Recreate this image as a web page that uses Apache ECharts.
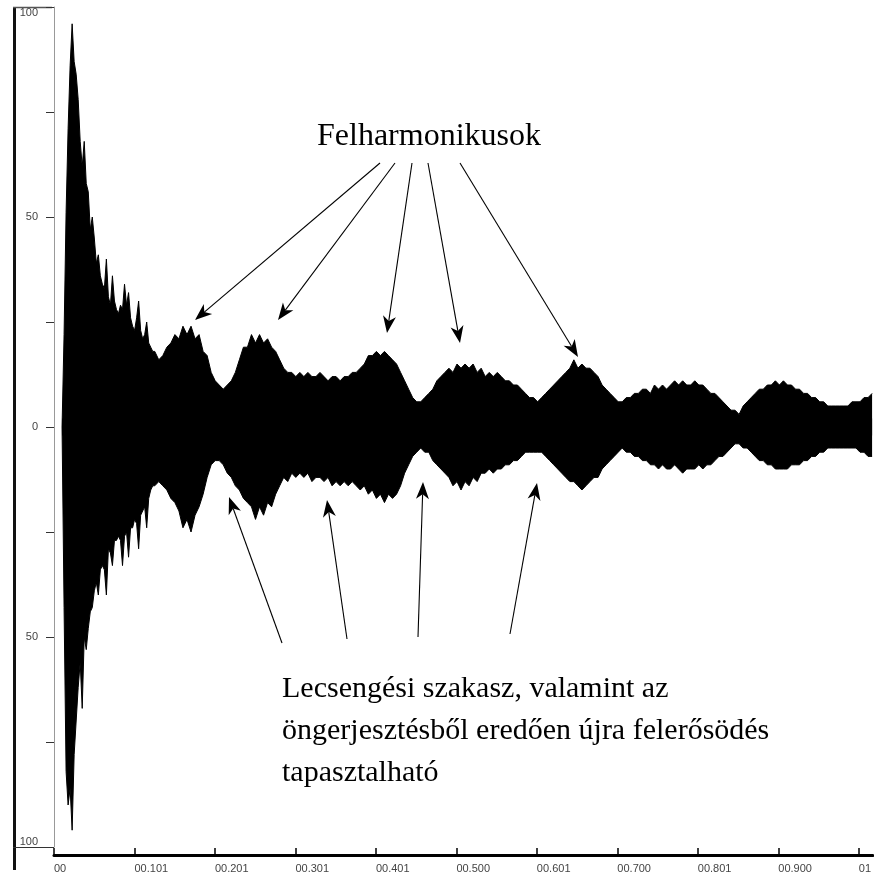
<!DOCTYPE html>
<html>
<head>
<meta charset="utf-8">
<script src="https://cdn.jsdelivr.net/npm/echarts@6/dist/echarts.min.js"></script>
<style>
html,body{margin:0;padding:0;background:#fff;}
#chart{width:874px;height:877px;}
</style>
</head>
<body>
<div id="chart"></div>
<script>
// ---- data ----
const time = [
0.010,0.0125,0.015,0.0175,0.020,0.0225,0.025,0.0275,0.030,0.0325,
0.035,0.0375,0.040,0.0425,0.045,0.0475,0.050,0.0525,0.055,0.0575,
0.060,0.0625,0.065,0.0675,0.070,0.0725,0.075,0.0775,0.080,0.0825,
0.085,0.0875,0.090,0.0925,0.095,0.0975,0.100,0.1025,0.105,0.1075,
0.110,0.1125,0.115,0.1175,0.120,0.1225,0.125,
0.130,0.135,0.140,0.145,0.150,0.155,0.160,0.165,0.170,0.175,
0.180,0.185,0.190,0.195,0.200,0.205,0.210,0.215,0.220,0.225,
0.230,0.235,0.240,0.245,0.250,0.255,0.260,0.265,0.270,0.275,
0.280,0.285,0.290,0.295,0.300,0.305,0.310,0.315,0.320,0.325,
0.330,0.335,0.340,0.345,0.350,0.355,0.360,0.365,0.370,0.375,
0.380,0.385,0.390,0.395,0.400,0.405,0.410,0.415,0.420,0.425,
0.430,0.435,0.440,0.445,0.450,0.455,0.460,0.465,0.470,0.475,
0.480,0.485,0.490,0.495,0.500,0.505,0.510,0.515,0.520,0.525,
0.530,0.535,0.540,0.545,0.550,0.555,0.560,0.565,0.570,0.575,
0.580,0.585,0.590,0.595,0.600,0.605,0.610,0.615,0.620,0.625,
0.630,0.635,0.640,0.645,0.650,0.655,0.660,0.665,0.670,0.675,
0.680,0.685,0.690,0.695,0.700,0.705,0.710,0.715,0.720,0.725,
0.730,0.735,0.740,0.745,0.750,0.755,0.760,0.765,0.770,0.775,
0.780,0.785,0.790,0.795,0.800,0.805,0.810,0.815,0.820,0.825,
0.830,0.835,0.840,0.845,0.850,0.855,0.860,0.865,0.870,0.875,
0.880,0.885,0.890,0.895,0.900,0.905,0.910,0.915,0.920,0.925,
0.930,0.935,0.940,0.945,0.950,0.955,0.960,0.965,0.970,0.975,
0.980,0.985,0.990,0.995,1.000,1.005,1.010,1.015
];
const upper = [
0,22,51,71,86,96,87,84,78,68,
62,68,58,56,47,50,45,39,41,36,
34,33,40,31,29,36,30,28,27,29,
28,34,29,32,26,24,23,26,30,23,
21,22,25,20,19,18,18,
16,17,19,20,22,21,24,22,24,21,
22,18,17,13,11,10,9,10,11,13,
16,19,19,22,20,22,20,21,19,18,
16,14,13,13,12,13,12,13,12,12,
13,12,11,12,12,11,12,12,13,13,
14,15,17,17,18,17,18,17,16,15,
13,11,9,7,6,6,7,8,9,11,
12,13,14,13,15,14,15,14,15,13,
14,12,13,12,13,12,11,11,10,10,
9,8,7,7,6,7,8,9,10,11,
12,13,14,16,14,15,14,14,13,12,
10,9,8,7,6,6,7,7,8,8,
9,9,8,10,9,10,9,10,11,10,
11,10,10,11,10,10,9,8,8,7,
6,5,4,4,3,5,6,7,8,9,
9,10,10,11,10,11,10,10,9,9,
8,8,7,7,6,6,5,5,5,5,
5,5,6,6,6,7,7,8
];
const lower = [
0,-43,-82,-90,-86,-96,-78,-70,-62,-56,
-67,-50,-53,-48,-44,-43,-39,-37,-40,-34,
-33,-34,-40,-29,-30,-33,-27,-27,-26,-27,
-33,-26,-25,-31,-24,-24,-22,-23,-29,-21,
-20,-19,-24,-17,-15,-14,-14,
-13,-14,-15,-17,-18,-20,-24,-22,-25,-21,
-19,-16,-12,-9,-8,-8,-9,-11,-12,-14,
-15,-17,-18,-19,-22,-19,-21,-18,-19,-16,
-14,-12,-13,-11,-12,-11,-12,-11,-13,-12,
-12,-13,-12,-14,-13,-14,-13,-14,-13,-14,
-15,-14,-16,-15,-17,-16,-18,-16,-17,-16,
-14,-11,-9,-7,-6,-5,-6,-6,-8,-9,
-10,-11,-12,-14,-13,-15,-13,-14,-12,-13,
-11,-11,-10,-11,-10,-10,-9,-9,-8,-8,
-7,-6,-6,-6,-6,-6,-7,-8,-9,-10,
-11,-12,-13,-13,-14,-15,-14,-13,-12,-12,
-10,-9,-8,-7,-6,-5,-6,-6,-7,-7,
-8,-8,-9,-9,-10,-9,-10,-10,-9,-10,
-11,-10,-10,-10,-9,-10,-9,-9,-8,-7,
-7,-6,-5,-4,-4,-5,-5,-6,-7,-8,
-8,-9,-9,-10,-10,-10,-10,-9,-9,-9,
-8,-8,-7,-7,-6,-6,-5,-5,-5,-5,
-5,-5,-5,-5,-6,-6,-7,-7
];
const xTickValues = [0,0.1,0.2,0.3,0.4,0.5,0.6,0.7,0.8,0.9,1.0];
const xTickLabels = ['00','00.101','00.201','00.301','00.401','00.500','00.601','00.700','00.801','00.900','01'];
const yTickLabels = {'100':'100','50':'50','0':'0','-50':'50','-100':'100'};
const titleTop = 'Felharmonikusok';
const noteLines = ['Lecsengési szakasz, valamint az','öngerjesztésből eredően újra felerősödés','tapasztalható'];

// ---- build ----
const upperData = time.map((t,i)=>[t, upper[i]]);
const lowerData = time.map((t,i)=>[t, lower[i]]);

const serifFamily = '"Liberation Serif","Times New Roman",serif';

function arrow(x1,y1,x2,y2){
  const dx=x2-x1, dy=y2-y1, len=Math.sqrt(dx*dx+dy*dy);
  const ux=dx/len, uy=dy/len, px=-uy, py=ux;
  const L=17, W=6.5;
  const bx=x2-ux*L, by=y2-uy*L;
  const nx=x2-ux*L*0.72, ny=y2-uy*L*0.72;
  return [
    {type:'line', silent:true, z:100, shape:{x1:x1,y1:y1,x2:nx,y2:ny}, style:{stroke:'#000', lineWidth:1.1}},
    {type:'polygon', silent:true, z:100, shape:{points:[[x2,y2],[bx+px*W,by+py*W],[nx,ny],[bx-px*W,by-py*W]]}, style:{fill:'#000'}}
  ];
}

const graphics = [];
// frame
graphics.push({type:'line', silent:true, shape:{x1:14.5,y1:7,x2:14.5,y2:870}, style:{stroke:'#111', lineWidth:3}});
graphics.push({type:'line', silent:true, shape:{x1:13,y1:7.5,x2:52,y2:7.5}, style:{stroke:'#555', lineWidth:1.5}});
graphics.push({type:'line', silent:true, shape:{x1:13,y1:847.5,x2:50,y2:847.5}, style:{stroke:'#333', lineWidth:1}});
// arrows upper
[[380,163,195,320],[395,163,278,320],[412,163,387,333],[428,163,460,343],[460,163,578,357]]
  .forEach(a=>graphics.push(...arrow(a[0],a[1],a[2],a[3])));
// arrows lower
[[282,643,229,497],[347,639,327,500],[418,637,423,482],[510,634,537,483]]
  .forEach(a=>graphics.push(...arrow(a[0],a[1],a[2],a[3])));
// texts
graphics.push({type:'text', silent:true, style:{text:titleTop, x:317, y:137, font:'32px '+serifFamily, fill:'#000', textAlign:'left', textVerticalAlign:'middle'}});
noteLines.forEach((s,i)=>{
  graphics.push({type:'text', silent:true, style:{text:s, x:282, y:689+i*42, font:'30px '+serifFamily, fill:'#000', textAlign:'left', textVerticalAlign:'middle'}});
});

const chart = echarts.init(document.getElementById('chart'), null, {renderer:'canvas'});
chart.setOption({
  animation:false,
  backgroundColor:'#fff',
  grid:[
    {left:52, right:0, top:7, bottom:30},
    {left:54, right:0, top:7, bottom:22}
  ],
  xAxis:[
    {type:'value', gridIndex:0, min:-2/806, max:820/806, show:false},
    {type:'value', gridIndex:1, min:0, max:820/806,
      splitLine:{show:false},
      axisLine:{lineStyle:{color:'#000', width:3}},
      axisTick:{inside:true, length:7, lineStyle:{color:'#000', width:1.5}, customValues:xTickValues},
      axisLabel:{customValues:xTickValues, align:'left', margin:8, fontSize:11, color:'#444',
        fontFamily:'"Liberation Sans",Arial,sans-serif',
        formatter:function(v){const i=Math.round(v*10); return xTickLabels[i]!==undefined?xTickLabels[i]:'';}}
    }
  ],
  yAxis:[
    {type:'value', gridIndex:0, min:-100, max:100, interval:25,
      splitLine:{show:false},
      axisLine:{show:true, lineStyle:{color:'#999', width:1}},
      axisTick:{show:true, length:8, lineStyle:{color:'#333', width:1}},
      axisLabel:{interval:1, margin:14, fontSize:11, color:'#444',
        fontFamily:'"Liberation Sans",Arial,sans-serif',
        verticalAlignMaxLabel:'top', verticalAlignMinLabel:'bottom',
        formatter:function(v){const k=String(Math.round(v)); return yTickLabels[k]!==undefined?yTickLabels[k]:'';}}
    },
    {type:'value', gridIndex:1, show:false, min:0, max:1}
  ],
  series:[
    {type:'line', name:'upper', xAxisIndex:0, yAxisIndex:0, data:upperData,
      symbol:'none', silent:true, lineStyle:{color:'#000', width:1}, areaStyle:{color:'#000', opacity:1, origin:-2}},
    {type:'line', name:'lower', xAxisIndex:0, yAxisIndex:0, data:lowerData,
      symbol:'none', silent:true, lineStyle:{color:'#000', width:1}, areaStyle:{color:'#000', opacity:1, origin:2}}
  ],
  graphic:graphics
});
</script>
</body>
</html>
